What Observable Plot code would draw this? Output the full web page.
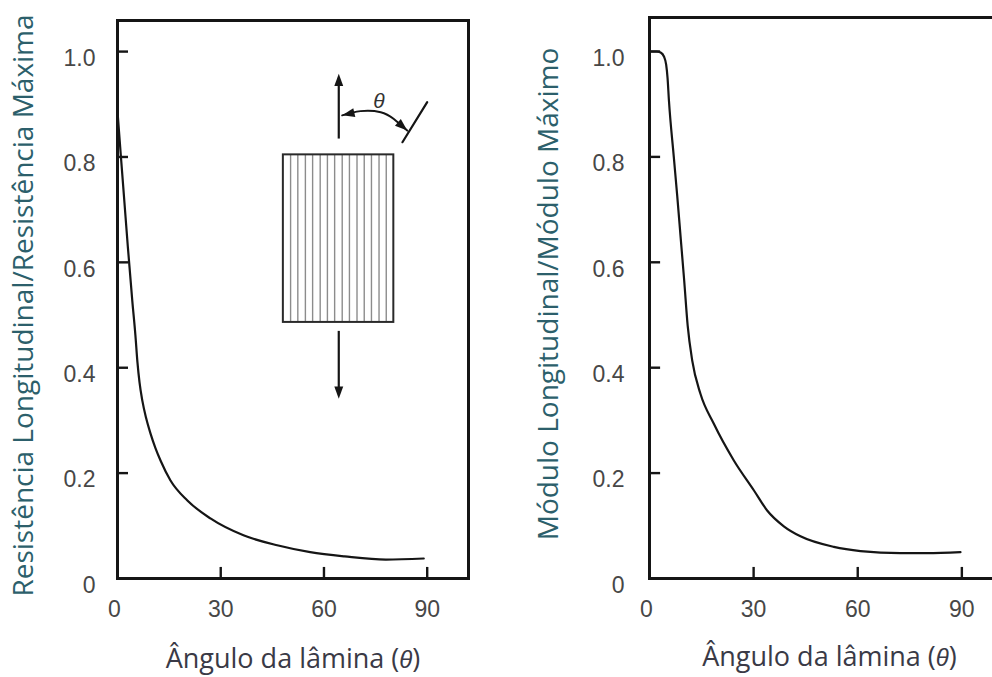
<!DOCTYPE html>
<html>
<head>
<meta charset="utf-8">
<script src="https://cdn.jsdelivr.net/npm/d3@7"></script>
<script src="https://cdn.jsdelivr.net/npm/@observablehq/plot@0.6"></script>
<style>
  html, body { margin: 0; padding: 0; background: #fff; overflow: hidden; }
  #wrap { position: relative; width: 992px; height: 677px; overflow: hidden; background: #fff; }
  #wrap svg { position: absolute; top: 0; }
</style>
</head>
<body>
<div id="wrap"></div>
<script>
// ---------- data ----------
const xTicks = [0, 30, 60, 90];
const xTickLabels = ["0", "30", "60", "90"];
const yTicks = [0, 0.2, 0.4, 0.6, 0.8, 1.0];
const yTickLabels = ["0", "0.2", "0.4", "0.6", "0.8", "1.0"];

const xTitle = "Ângulo da lâmina (θ)";
const leftYTitle = "Resistência Longitudinal/Resistência Máxima";
const rightYTitle = "Módulo Longitudinal/Módulo Máximo";

// left panel: strength ratio vs lamina angle
const strengthAngle = [0, 1, 2, 3, 4.3, 5.2, 5.8, 6.4, 7.2, 8.3, 9.6, 11, 12.5, 15.4, 20.3, 27, 36.6, 46.4, 56, 66, 78, 89];
const strengthValue = [0.886, 0.80, 0.715, 0.63, 0.527, 0.462, 0.41, 0.372, 0.338, 0.305, 0.275, 0.248, 0.224, 0.186, 0.148, 0.114, 0.082, 0.063, 0.050, 0.042, 0.036, 0.038];

// right panel: modulus ratio vs lamina angle
const modulusAngle = [0, 2, 3.2, 4.2, 4.8, 5.2, 5.6, 7, 8, 9, 10, 11, 12.3, 14.7, 18.5, 24.3, 30.1, 33.9, 38.7, 43.5, 53.1, 60.8, 72.3, 80, 89.6];
const modulusValue = [1.0, 1.0, 0.998, 0.99, 0.975, 0.95, 0.907, 0.80, 0.725, 0.645, 0.565, 0.48, 0.414, 0.350, 0.294, 0.224, 0.167, 0.129, 0.099, 0.080, 0.060, 0.052, 0.048, 0.048, 0.050];

// inset diagram (in data units of the left panel)
const insetRect = [{x1: 48.2, x2: 80.3, y1: 0.486, y2: 0.804}];
const fiberX = [50.3, 52.4, 54.6, 56.7, 58.9, 61.0, 63.1, 65.3, 67.4, 69.6, 71.7, 73.8, 76.0, 78.1];
const arrowShafts = [{x: 64.3, y1: 0.834, y2: 0.945}, {x: 64.3, y1: 0.469, y2: 0.36}];
const slantAngle = [82.8, 90.0];
const slantValue = [0.828, 0.904];
const arcAngle = [65.3, 70.6, 76.5, 80.3, 84.2];
const arcValue = [0.879, 0.887, 0.885, 0.872, 0.850];
const arrowHeads = [
  {x: 64.3, y: 0.958, dir: 0},
  {x: 64.3, y: 0.341, dir: 180},
  {x: 65.3, y: 0.879, dir: -103},
  {x: 84.2, y: 0.850, dir: 131}
];
const thetaLabel = [{x: 76, y: 0.905, text: "θ"}];

// ---------- helpers ----------
const tickFont = "Liberation Sans, Arial, Helvetica, sans-serif";
const titleFont = "Open Sans, Noto Sans, sans-serif";
const tickColor = "#474747";
const yTitleColor = "#2c5f6b";
const xTitleColor = "#3a3a46";
const ink = "#151515";

function headSymbol(deg) {
  const a = deg * Math.PI / 180, c = Math.cos(a), s = Math.sin(a);
  return {
    draw(ctx, size) {
      const r = Math.sqrt(size / Math.PI);
      const h = r * 2, w = r * 0.72;
      const pts = [[0, 0], [-w, h], [w, h]].map(([px, py]) => [px * c - py * s, px * s + py * c]);
      ctx.moveTo(pts[0][0], pts[0][1]);
      ctx.lineTo(pts[1][0], pts[1][1]);
      ctx.lineTo(pts[2][0], pts[2][1]);
      ctx.closePath();
    }
  };
}

function axesMarks(opts) {
  const {xTickLen, yTickLen, yLabelDx, yTitle, yTitleDx, yTitleDy, xTitleDx, xTitleDy} = opts;
  const xt = xTicks.map((v, i) => ({v, label: xTickLabels[i]}));
  const yt = yTicks.map((v, i) => ({v, label: yTickLabels[i]}));
  return [
    Plot.ruleY(yTicks.filter(d => d > 0), {y: d => d, x1: 0, x2: yTickLen, stroke: ink, strokeWidth: 2.4}),
    Plot.ruleX(xTicks.filter(d => d > 0), {x: d => d, y1: 0, y2: xTickLen, stroke: ink, strokeWidth: 2.4}),
    Plot.text(yt, {x: 0, y: "v", text: "label", textAnchor: "end", dx: yLabelDx, dy: 7,
      fontSize: 23, fill: tickColor, fontFamily: tickFont}),
    Plot.text(xt.filter(d => d.v !== 0), {x: "v", y: 0, text: "label", textAnchor: "middle", dy: 31,
      fontSize: 23, fill: tickColor, fontFamily: tickFont}),
    Plot.text(xt.filter(d => d.v === 0), {x: "v", y: 0, text: "label", textAnchor: "middle", dx: -3, dy: 31,
      fontSize: 23, fill: tickColor, fontFamily: tickFont}),
    Plot.text([yTitle], {frameAnchor: "left", text: d => d, rotate: -90, textAnchor: "middle", lineAnchor: "middle",
      dx: yTitleDx, dy: yTitleDy, fontSize: 28, fill: yTitleColor, fontFamily: titleFont}),
    Plot.text([xTitle], {frameAnchor: "bottom", text: d => d, textAnchor: "middle", lineAnchor: "middle",
      dx: xTitleDx, dy: xTitleDy, fontSize: 27, fill: xTitleColor, fontFamily: titleFont}),
    Plot.frame({stroke: ink, strokeWidth: 3})
  ];
}

function italicTheta(svg) {
  svg.querySelectorAll("text").forEach(t => {
    if (t.textContent === xTitle) {
      t.innerHTML = 'Ângulo da lâmina (<tspan font-style="italic" font-family="Liberation Sans, Arial, sans-serif" font-size="24">θ</tspan>)';
    }
  });
}

// ---------- left panel ----------
const leftData = strengthAngle.map((a, i) => ({a, v: strengthValue[i]}));
const left = Plot.plot({
  width: 496, height: 677,
  marginLeft: 117, marginRight: 28, marginTop: 20, marginBottom: 99,
  x: {domain: [0, 102], axis: null},
  y: {domain: [0, 1.059], axis: null},
  style: {background: "#fff", fontFamily: tickFont, overflow: "visible"},
  marks: [
    // inset diagram
    Plot.rect(insetRect, {x1: "x1", x2: "x2", y1: "y1", y2: "y2", fill: "#fff"}),
    Plot.ruleX(fiberX, {x: d => d, y1: insetRect[0].y1, y2: insetRect[0].y2, stroke: "#8c8c8c", strokeWidth: 1.4}),
    Plot.rect(insetRect, {x1: "x1", x2: "x2", y1: "y1", y2: "y2", fill: "none", stroke: "#2a2a2a", strokeWidth: 2}),
    Plot.ruleX(arrowShafts, {x: "x", y1: "y1", y2: "y2", stroke: ink, strokeWidth: 2.2}),
    Plot.line(slantAngle.map((a, i) => ({a, v: slantValue[i]})), {x: "a", y: "v", stroke: ink, strokeWidth: 2.2}),
    Plot.line(arcAngle.map((a, i) => ({a, v: arcValue[i]})), {x: "a", y: "v", curve: "natural", stroke: ink, strokeWidth: 2}),
    ...arrowHeads.map(h => Plot.dot([h], {x: "x", y: "y", r: 6.2, symbol: headSymbol(h.dir), fill: ink, stroke: "none"})),
    Plot.text(thetaLabel, {x: "x", y: "y", text: "text", fontSize: 21, fontStyle: "italic", fill: "#333",
      fontFamily: tickFont, textAnchor: "middle", lineAnchor: "middle"}),
    // curve
    Plot.line(leftData, {x: "a", y: "v", curve: "monotone-x", stroke: ink, strokeWidth: 2.2}),
    ...axesMarks({xTickLen: 0.021, yTickLen: 3.2, yLabelDx: -22, yTitle: leftYTitle,
      yTitleDx: -93, yTitleDy: 6, xTitleDx: 0, xTitleDy: 81})
  ]
});
left.style.left = "0px";
italicTheta(left);

// ---------- right panel ----------
const rightData = modulusAngle.map((a, i) => ({a, v: modulusValue[i]}));
const right = Plot.plot({
  width: 520, height: 677,
  marginLeft: 153, marginRight: 13, marginTop: 17, marginBottom: 99,
  x: {domain: [0, 102], axis: null},
  y: {domain: [0, 1.0645], axis: null},
  style: {background: "transparent", fontFamily: tickFont, overflow: "visible"},
  marks: [
    Plot.line(rightData, {x: "a", y: "v", curve: "monotone-x", stroke: ink, strokeWidth: 2.2}),
    ...axesMarks({xTickLen: 0.021, yTickLen: 3.2, yLabelDx: -25, yTitle: rightYTitle,
      yTitleDx: -100, yTitleDy: -4, xTitleDx: 3, xTitleDy: 79})
  ]
});
right.style.left = "496px";
italicTheta(right);

const wrap = document.getElementById("wrap");
wrap.appendChild(left);
wrap.appendChild(right);
</script>
</body>
</html>
